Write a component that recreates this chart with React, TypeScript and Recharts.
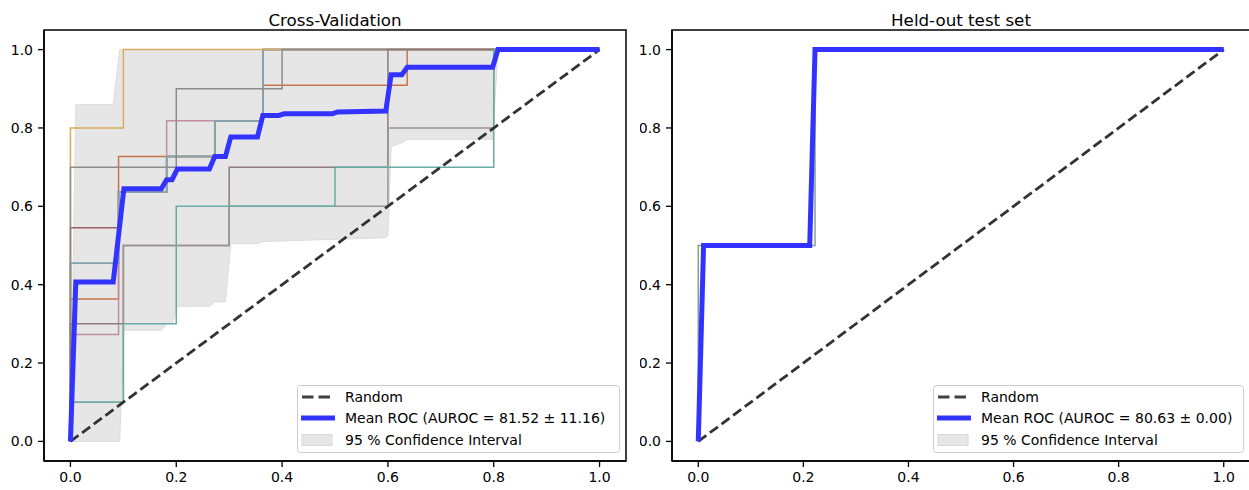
import React from "react";
import { ComposedChart, Line, Area, XAxis, YAxis, ReferenceArea } from "recharts";

type Pt = [number, number];

const ticks = [0, 0.2, 0.4, 0.6, 0.8, 1.0];
const randomDiag: Pt[] = [[0, 0], [1, 1]];

// cross-validation folds (fpr, tpr)
const foldOrange: Pt[] = [[0, 0], [0, 0.3636], [0.0909, 0.3636], [0.0909, 0.7273], [0.2727, 0.7273], [0.2727, 0.8182], [0.3636, 0.8182], [0.3636, 0.9091], [0.6364, 0.9091], [0.6364, 1], [1, 1]];
const foldDarkRed: Pt[] = [[0, 0], [0, 0.5455], [0.0909, 0.5455], [0.0909, 0.6364], [0.1818, 0.6364], [0.1818, 0.7273], [0.2727, 0.7273], [0.2727, 0.8182], [0.3636, 0.8182], [0.3636, 1], [1, 1]];
const foldGreen: Pt[] = [[0, 0], [0, 0.4545], [0.0909, 0.4545], [0.0909, 0.6364], [0.1818, 0.6364], [0.1818, 0.7273], [0.2727, 0.7273], [0.2727, 0.8182], [0.3636, 0.8182], [0.3636, 1], [1, 1]];
const foldPink: Pt[] = [[0, 0], [0, 0.2727], [0.0909, 0.2727], [0.0909, 0.6364], [0.1818, 0.6364], [0.1818, 0.8182], [0.3636, 0.8182], [0.3636, 1], [1, 1]];
const foldCyan: Pt[] = [[0, 0], [0, 0.4545], [0.0909, 0.4545], [0.0909, 0.6364], [0.1818, 0.6364], [0.1818, 0.7273], [0.2727, 0.7273], [0.2727, 0.8182], [0.3636, 0.8182], [0.3636, 1], [1, 1]];
const foldGold: Pt[] = [[0, 0], [0, 0.8], [0.1, 0.8], [0.1, 1], [1, 1]];
const foldGray: Pt[] = [[0, 0], [0, 0.7], [0.2, 0.7], [0.2, 0.9], [0.4, 0.9], [0.4, 1], [1, 1]];
const foldMauve: Pt[] = [[0, 0], [0, 0.3], [0.1, 0.3], [0.1, 0.5], [0.3, 0.5], [0.3, 0.7], [0.6, 0.7], [0.6, 1], [1, 1]];
const foldTaupe: Pt[] = [[0, 0], [0, 0.1], [0.1, 0.1], [0.1, 0.5], [0.3, 0.5], [0.3, 0.6], [0.6, 0.6], [0.6, 0.8], [0.8, 0.8], [0.8, 1], [1, 1]];
const foldTeal: Pt[] = [[0, 0], [0, 0.1], [0.1, 0.1], [0.1, 0.3], [0.2, 0.3], [0.2, 0.6], [0.5, 0.6], [0.5, 0.7], [0.8, 0.7], [0.8, 1], [1, 1]];

const cvFolds = [foldOrange, foldDarkRed, foldGreen, foldPink, foldCyan, foldGold, foldGray, foldMauve, foldTaupe, foldTeal];
const cvFoldColors = ["#c8744a", "#9c5e66", "#86a68f", "#c48ea0", "#7fa4b4", "#d8ab58", "#8c8c8c", "#8f7a7c", "#9c948e", "#67ada3"];

const cvMean: Pt[] = [
  [0, 0], [0.0101, 0.407], [0.0808, 0.407], [0.101, 0.645], [0.1717, 0.645], [0.1818, 0.668],
  [0.192, 0.668], [0.202, 0.695], [0.2626, 0.695], [0.2727, 0.727], [0.2929, 0.727], [0.303, 0.777],
  [0.3535, 0.777], [0.3636, 0.832], [0.3939, 0.832], [0.404, 0.836], [0.4949, 0.836], [0.505, 0.841],
  [0.596, 0.843], [0.6061, 0.936], [0.6263, 0.936], [0.6364, 0.955], [0.798, 0.955], [0.8081, 1], [1, 1],
];

const cvBandFpr = [0, 0.0101, 0.0808, 0.093, 0.101, 0.1717, 0.1818, 0.192, 0.202, 0.2626, 0.2727, 0.2929, 0.303, 0.3535, 0.3636, 0.596, 0.6, 0.6061, 0.6263, 0.6364, 0.798, 0.8081, 1];
const cvBandLow = [0, 0, 0, 0, 0.284, 0.284, 0.3, 0.3, 0.345, 0.345, 0.356, 0.356, 0.505, 0.505, 0.51, 0.52, 0.525, 0.753, 0.762, 0.771, 0.771, 1, 1];
const cvBandHigh = [0, 0.86, 0.86, 1, 1, 1, 1, 1, 1, 1, 1, 1, 1, 1, 1, 1, 1, 1, 1, 1, 1, 1, 1];

// held-out test set
const testFold: Pt[] = [[0, 0], [0, 0.5], [0.2222, 0.5], [0.2222, 1], [1, 1]];
const testMean: Pt[] = [[0, 0], [0.0101, 0.5], [0.2121, 0.5], [0.2222, 1], [1, 1]];

const cvTitle = "Cross-Validation";
const testTitle = "Held-out test set";
const legendRandom = "Random";
const cvMeanLabel = "Mean ROC (AUROC = 81.52 ± 11.16)";
const testMeanLabel = "Mean ROC (AUROC = 80.63 ± 0.00)";
const legendCI = "95 % Confidence Interval";

const FONT = "'DejaVu Sans', sans-serif";
const rows = (pts: Pt[]) => pts.map(([x, y]) => ({ x, y }));

function RocPanel({
  width, marginLeft, yAxisWidth, marginRight, folds, colors, mean, band,
}: {
  width: number; marginLeft: number; yAxisWidth: number; marginRight: number;
  folds: Pt[][]; colors: string[]; mean: Pt[];
  band?: { x: number; range: [number, number] }[];
}) {
  const tickStyle = { fontSize: 14, fontFamily: FONT, fill: "#000" };
  return (
    <ComposedChart width={width} height={490} margin={{ top: 30, right: marginRight, bottom: 0, left: marginLeft }}>
      <XAxis
        type="number" dataKey="x" domain={[-0.05, 1.05]} ticks={ticks} allowDataOverflow
        tickFormatter={(v: number) => v.toFixed(1)} height={29} tickSize={6} tickMargin={5}
        tick={tickStyle} stroke="#000" axisLine={{ stroke: "#000", strokeWidth: 1.5 }}
        tickLine={{ stroke: "#000", strokeWidth: 1.3 }}
      />
      <YAxis
        type="number" dataKey="y" domain={[-0.05, 1.05]} ticks={ticks} allowDataOverflow
        tickFormatter={(v: number) => v.toFixed(1)} width={yAxisWidth} tickSize={6} tickMargin={5}
        tick={tickStyle} stroke="#000" axisLine={{ stroke: "#000", strokeWidth: 1.5 }}
        tickLine={{ stroke: "#000", strokeWidth: 1.3 }}
      />
      {band && (
        <Area
          data={band} dataKey="range" type="linear" fill="#e6e6e6" fillOpacity={1}
          stroke="#dcdcdc" strokeWidth={1} isAnimationActive={false} activeDot={false} dot={false}
        />
      )}
      {folds.map((f, i) => (
        <Line
          key={i} data={rows(f)} dataKey="y" type="linear" stroke={colors[i]} strokeWidth={1.5}
          dot={false} activeDot={false} isAnimationActive={false}
        />
      ))}
      <Line
        data={rows(randomDiag)} dataKey="y" type="linear" stroke="#333333" strokeWidth={2.8}
        strokeDasharray="10 4.5" dot={false} activeDot={false} isAnimationActive={false}
      />
      <Line
        data={rows(mean)} dataKey="y" type="linear" stroke="#3333ff" strokeWidth={5}
        strokeLinejoin="miter" dot={false} activeDot={false} isAnimationActive={false}
      />
      <ReferenceArea
        x1={-0.05} x2={1.05} y1={-0.05} y2={1.05} fill="none" fillOpacity={0}
        stroke="#000" strokeWidth={1.5} ifOverflow="visible"
      />
    </ComposedChart>
  );
}

function LegendBox({ x, y, w, meanLabel }: { x: number; y: number; w: number; meanLabel: string }) {
  const tx = x + 48;
  return (
    <g fontFamily={FONT} fontSize={14} fill="#000">
      <rect x={x + 0.5} y={y + 0.5} width={w} height={67} rx={3} fill="#fff" fillOpacity={0.8} stroke="#cccccc" />
      <line x1={x + 5} x2={x + 33} y1={y + 12} y2={y + 12} stroke="#404040" strokeWidth={3} strokeDasharray="11.5 5" />
      <line x1={x + 4} x2={x + 38} y1={y + 33} y2={y + 33} stroke="#3333ff" strokeWidth={5} />
      <rect x={x + 5} y={y + 49.5} width={30} height={11} fill="#e6e6e6" stroke="#d8d8d8" />
      <text x={tx} y={y + 17}>{legendRandom}</text>
      <text x={tx} y={y + 38.3}>{meanLabel}</text>
      <text x={tx} y={y + 59.7}>{legendCI}</text>
    </g>
  );
}

export default function App() {
  const band = cvBandFpr.map((x, i) => ({ x, range: [cvBandLow[i], cvBandHigh[i]] as [number, number] }));
  return (
    <div style={{ position: "fixed", left: 0, top: 0, width: 1249, height: 490, background: "#fff", overflow: "hidden" }}>
      <div style={{ position: "absolute", left: 0, top: 0 }}>
        <RocPanel
          width={640} marginLeft={4} yAxisWidth={40} marginRight={14}
          folds={cvFolds} colors={cvFoldColors} mean={cvMean} band={band}
        />
      </div>
      <div style={{ position: "absolute", left: 640, top: 0 }}>
        <RocPanel
          width={610} marginLeft={4} yAxisWidth={28} marginRight={0}
          folds={[testFold]} colors={["#84a28c"]} mean={testMean}
        />
      </div>
      <svg width={1249} height={490} style={{ position: "absolute", left: 0, top: 0, pointerEvents: "none" }}>
        <text x={335} y={26} textAnchor="middle" fontFamily={FONT} fontSize={16.7} fill="#000">{cvTitle}</text>
        <text x={961} y={26} textAnchor="middle" fontFamily={FONT} fontSize={16.7} fill="#000">{testTitle}</text>
        <LegendBox x={297} y={385} w={322} meanLabel={cvMeanLabel} />
        <LegendBox x={933} y={385} w={310} meanLabel={testMeanLabel} />
      </svg>
    </div>
  );
}
